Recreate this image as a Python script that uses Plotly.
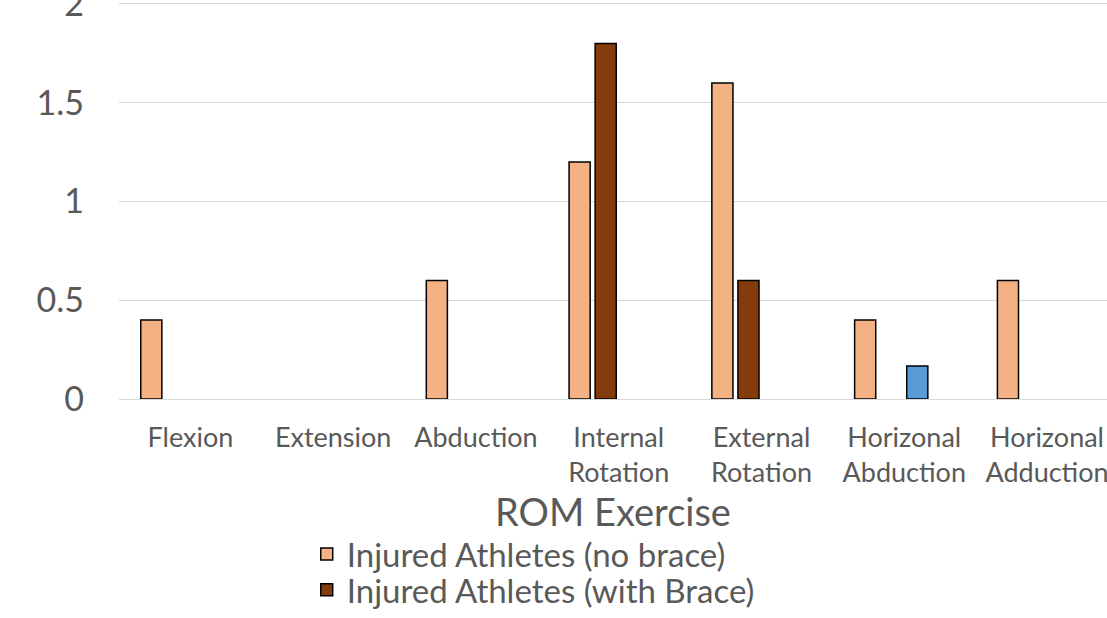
import plotly.graph_objects as go

# ROM exercises on the category axis
exercises = ["Flexion", "Extension", "Abduction", "Internal<br>Rotation",
             "External<br>Rotation", "Horizonal<br>Abduction", "Horizonal<br>Adduction"]

# Series values (None = no bar)
injured_no_brace = [0.4, None, 0.6, 1.2, 1.6, 0.4, 0.6]
injured_with_brace = [None, None, None, 1.8, 0.6, None, None]
healthy_no_brace = [None, None, None, None, None, 0.167, None]
healthy_with_brace = [None, None, None, None, None, None, None]

y_ticks = [0, 0.5, 1, 1.5, 2]
y_tick_text = ["0", "0.5", "1", "1.5", "2"]

FONT = "Lato, Carlito, Calibri, sans-serif"
GREY = "#595959"

# name, values, fill colour, legend id (None = not listed)
series = [
    ("Injured Athletes (no brace)", injured_no_brace, "#F4B183", "legend"),
    ("Injured Athletes (with Brace)", injured_with_brace, "#843C0C", "legend2"),
    ("Healthy Athletes (no brace)", healthy_no_brace, "#5B9BD5", None),
    ("Healthy Athletes (with Brace)", healthy_with_brace, "#A5A5A5", None),
]

fig = go.Figure()
for name, vals, color, leg in series:
    fig.add_trace(go.Bar(
        x=list(range(len(exercises))), y=vals, name=name,
        marker=dict(color=color, line=dict(color="#000000", width=1.5)),
        showlegend=leg is not None,
        legend=leg if leg else "legend",
    ))

legend_style = dict(
    x=0.19, xanchor="left", yanchor="top",
    font=dict(size=33, color=GREY), bgcolor="rgba(0,0,0,0)",
)

fig.update_layout(
    width=1107, height=618,
    margin=dict(l=119, r=0, t=2, b=219, autoexpand=False),
    plot_bgcolor="white", paper_bgcolor="white",
    barmode="group", bargap=0.27, bargroupgap=0.19,
    font=dict(family=FONT, color=GREY),
    xaxis=dict(
        tickmode="array", tickvals=list(range(len(exercises))), ticktext=exercises,
        range=[-0.5, 6.42], showgrid=False, showline=False, zeroline=False,
        ticks="", tickfont=dict(size=27, color=GREY), ticklabelstandoff=20,
        ticklabeloverflow="allow",
        title=dict(text="ROM Exercise", font=dict(size=38, color=GREY), standoff=0),
        automargin=False,
    ),
    yaxis=dict(
        range=[0, 2.01], tickvals=y_ticks, ticktext=y_tick_text,
        showgrid=True, gridcolor="#D9D9D9", gridwidth=1.3,
        zeroline=True, zerolinecolor="#D9D9D9", zerolinewidth=1.3,
        showline=False, ticks="", tickfont=dict(size=34, color=GREY),
        ticklabelstandoff=34, ticklabeloverflow="allow", automargin=False,
    ),
    legend=dict(y=-0.32, **legend_style),
    legend2=dict(y=-0.41, **legend_style),
)

fig.write_html("out.html")
